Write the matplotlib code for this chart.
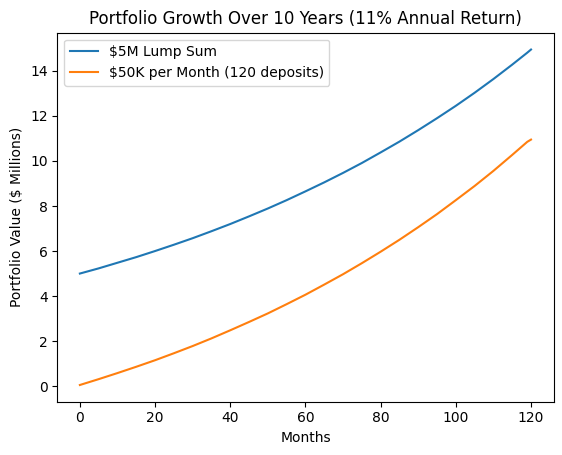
import matplotlib
matplotlib.use("Agg")
import matplotlib.pyplot as plt

# values ($ millions)
months = [0, 5, 10, 15, 20, 25, 30, 35, 40, 45, 50, 55, 60,
          65, 70, 75, 80, 85, 90, 95, 100, 105, 110, 115, 119, 120]
lump_sum = [5.00, 5.23, 5.48, 5.73, 6.00, 6.28, 6.57, 6.88, 7.20, 7.54, 7.89, 8.26, 8.65,
            9.05, 9.47, 9.91, 10.38, 10.86, 11.37, 11.90, 12.45, 13.03, 13.64, 14.28, 14.81, 14.95]
monthly = [0.05, 0.31, 0.58, 0.86, 1.15, 1.46, 1.78, 2.12, 2.48, 2.85, 3.23, 3.64, 4.06,
           4.51, 4.97, 5.46, 5.97, 6.50, 7.06, 7.64, 8.26, 8.89, 9.56, 10.27, 10.85, 10.95]

fig, ax = plt.subplots(figsize=(5.62, 4.55), dpi=100)
fig.subplots_adjust(left=0.102, right=0.985, top=0.928, bottom=0.117)

ax.plot(months, lump_sum, label="$5M Lump Sum")
ax.plot(months, monthly, label="$50K per Month (120 deposits)")

ax.set_title("Portfolio Growth Over 10 Years (11% Annual Return)")
ax.set_xlabel("Months")
ax.set_ylabel("Portfolio Value ($ Millions)")
ax.legend(loc="upper left")

fig.savefig("out.png", dpi=100)
